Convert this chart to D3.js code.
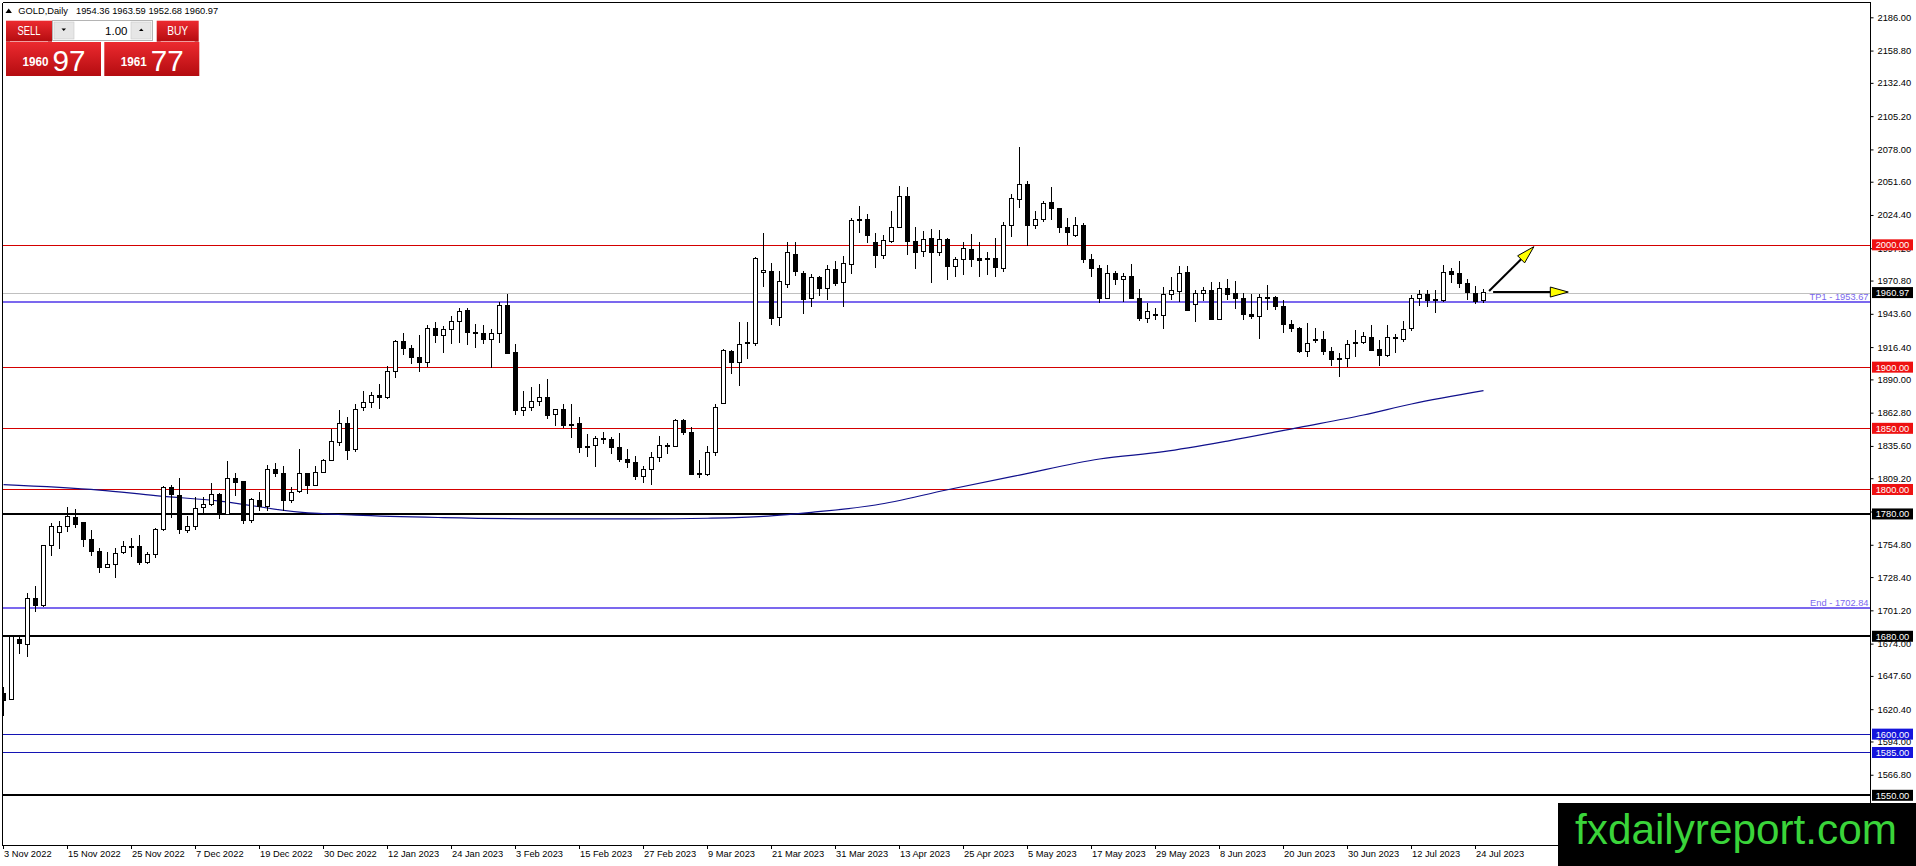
<!DOCTYPE html>
<html>
<head>
<meta charset="utf-8">
<script src="https://cdn.jsdelivr.net/npm/d3@7"></script>
<style>
  body { margin: 0; background: #fff; overflow: hidden; }
  svg { display: block; font-family: "Liberation Sans", Arial, sans-serif; }
</style>
</head>
<body>
<svg width="1916" height="866"></svg>
<script>
// --- Data ---
const dateLabels = ["3 Nov 2022", "15 Nov 2022", "25 Nov 2022", "7 Dec 2022", "19 Dec 2022", "30 Dec 2022",
  "12 Jan 2023", "24 Jan 2023", "3 Feb 2023", "15 Feb 2023", "27 Feb 2023", "9 Mar 2023", "21 Mar 2023",
  "31 Mar 2023", "13 Apr 2023", "25 Apr 2023", "5 May 2023", "17 May 2023", "29 May 2023", "8 Jun 2023",
  "20 Jun 2023", "30 Jun 2023", "12 Jul 2023", "24 Jul 2023"];
const barsPerLabel = 8;

const open = [1633.3,1628.4,1677.4,1673.6,1711,1705,1754.3,1764.6,1769.5,1777.2,1772.8,1759.5,1749.6,1736,1738.8,1748.6,1753.2,1753.2,1740.1,1747.2,
  1767.4,1801.4,1795.4,1766.8,1769.5,1785,1787.8,1796.3,1779.9,1809,1806.3,1775,1791.4,1786.4,1816.4,1813.2,1790.8,1798.2,1812.9,1803.4,
  1813.7,1824.1,1838.3,1853.8,1832.3,1866.9,1870.9,1877,1875,1896.3,1920.6,1915.1,1907.8,1903.7,1931.5,1925.5,1930.9,1937.2,1946.5,1928.2,
  1927.7,1922.2,1927.4,1950.5,1911.8,1864.2,1866.9,1872.3,1875.1,1861.4,1865,1853.5,1853.8,1835.5,1835.7,1841.7,1841.1,1834.3,1824.8,1822.1,
  1810.6,1816.6,1826.2,1835.7,1835.2,1856.1,1846.6,1812.7,1812.5,1830.3,1870.6,1912.8,1903.8,1919.4,1919.4,1977.4,1978.2,1940.6,1967.9,1992.4,
  1976.9,1956.1,1973.3,1964.3,1979.6,1969.2,1984.2,2019.6,2021,2001.9,1991,2002.6,2014.3,2039.9,2003.1,1994.4,2004.8,1993.6,2004,1982.2,
  1988.1,1996.3,1989,1987.6,1989,1980.8,2016.2,2037.2,2049.5,2016.2,2020.3,2034.5,2029.3,2014.3,2008,2015.4,1988.1,1980.8,1956.3,1976.7,
  1971.3,1974.5,1956.3,1939.9,1943.3,1942.6,1959,1961.7,1977.3,1951.6,1960.3,1963,1939,1964.4,1960.3,1956.2,1943.4,1941.8,1957,1957,
  1949.9,1935,1931.7,1912.6,1922.8,1922.2,1913.1,1907.1,1907.1,1919.6,1920,1924.3,1914.8,1909.3,1924.3,1922.2,1931.7,1956.2,1959.5,1954.8,
  1954.3,1978.6,1976.7,1968.5,1960.3,1954.36];
const high = [1638.5,1681,1679.6,1715,1721,1755,1772.3,1774.2,1785.9,1784,1773,1766.8,1751.8,1748.6,1751.8,1757.8,1760,1762.7,1748.8,1768.2,
  1802.8,1803.6,1809,1778.3,1793.5,1793.5,1805.5,1796.8,1823.5,1813.7,1807.2,1792.7,1798.2,1820,1821.9,1819.1,1801.7,1832.8,1813.7,1819.2,
  1825.2,1849.2,1864.7,1859.5,1869.6,1880.5,1880,1886,1900.9,1921.9,1928.2,1918.1,1926,1934.2,1936.9,1933.6,1941.8,1948.1,1948.6,1935,
  1934.2,1930.9,1953.3,1959.5,1919.2,1880.5,1884.1,1886,1890,1866,1869.6,1870.2,1859.5,1845.1,1843.9,1846.6,1843.3,1845.8,1833.5,1827,
  1819.4,1830.3,1843.9,1838.4,1857.5,1858,1851.2,1824,1835.2,1869.8,1914.7,1913.9,1937.3,1937.3,1989.7,2009.6,1984.8,1978.2,2002.5,2002.5,
  1978.8,1976,1974.7,1983.7,1986.9,1990.5,2022,2032,2025,2009.6,2007.9,2028,2048.1,2047.6,2014.3,2011.6,2012.7,2012.1,2005.3,1989.8,
  2002.6,2008.6,2002.6,1993.9,2005.3,2019,2041.3,2080.2,2052.2,2027.9,2036.1,2047,2029.8,2021.7,2022.5,2017.6,1992.2,1983.5,1983.5,1978.6,
  1976.7,1984.3,1963.9,1952.7,1948.1,1965.8,1974,1982.7,1982.7,1963,1965.7,1969.3,1969.3,1972,1970.4,1960.3,1959.8,1959.5,1967.1,1958.1,
  1954.8,1938.5,1933.1,1935.8,1932.2,1929.8,1916.1,1911.2,1922.2,1930.3,1929,1934.4,1922.2,1934.4,1927.1,1937.7,1959,1963,1963,1963,
  1983.5,1981.3,1986.7,1972,1966.3,1963.59];
const low = [1614.9,1628,1665.2,1662.7,1700,1704,1745.8,1751.6,1765.5,1768.7,1753.2,1745.8,1731.4,1735.5,1727.3,1747.2,1744.5,1738,1738.8,1743.7,
  1766.3,1776.9,1763.6,1764.6,1766.8,1780,1786.4,1775.5,1779,1794.6,1771.7,1772.8,1782.4,1782.6,1810.4,1782.6,1789.2,1797.3,1796,1802.9,
  1813.2,1823.3,1835.5,1824.1,1830.7,1864.2,1866.9,1866,1874.2,1891.4,1909.7,1902.9,1896,1900.4,1920,1911.3,1918.7,1919.5,1918.1,1915.4,
  1918.7,1899.6,1920,1910.5,1860.6,1860.1,1864.2,1868.2,1857.9,1851.9,1850,1842.4,1830.1,1826.8,1818,1837,1828.9,1822.1,1817.2,1807.9,
  1805.2,1803.8,1822.6,1828.9,1834.6,1844.4,1811.7,1809,1811.2,1827,1869.8,1894.3,1884.8,1906.6,1917.5,1965.7,1934.3,1933.8,1965.1,1974.7,
  1943.3,1948.8,1958.3,1955.1,1966.5,1949.3,1976,2010,2001.4,1981,1988.8,2001.8,2013.5,1991.7,1980,1990.3,1968.5,1990.9,1971.3,1974,
  1975.3,1982.2,1973.4,1975.3,1974,1977.5,2006.7,2029.8,1999,2013,2019,2020.3,2010,1999.9,2006.1,1984.9,1974,1952.2,1955.4,1967.2,
  1953.5,1955.4,1937.7,1935.8,1938.6,1930.9,1954.9,1953.5,1946.2,1937.1,1954.3,1938.5,1938.5,1954.8,1947.5,1938.5,1939,1923,1946.7,1946.7,
  1928.1,1929,1911.2,1908.5,1920,1909.9,1900.9,1891.6,1899.8,1908,1918.9,1913.2,1900.9,1908.5,1911.2,1920.3,1929.8,1950,1949.4,1944.5,
  1953.5,1968.5,1964.4,1954.8,1951.6,1952.68];
const close = [1627.3,1679.6,1674.2,1711,1705,1754.3,1769.5,1769.5,1778.3,1771.7,1759.2,1749.1,1736,1738.8,1747.7,1753.2,1753.6,1740.1,1747.2,1767.4,
  1801.4,1796,1767.4,1769.5,1784.5,1787.8,1796,1779.9,1809,1805.5,1775,1791.9,1786.4,1816.4,1813.2,1790.8,1797.3,1812.9,1803.4,1813.7,
  1823.3,1839.1,1853.8,1831.5,1865.5,1870.9,1877,1875,1896.3,1920.6,1915.1,1907.8,1903.7,1931.5,1925.5,1930.9,1937.2,1945.4,1928.2,1927.5,
  1922.2,1927.4,1950.5,1911.3,1864.2,1866.9,1872.3,1875.1,1860.6,1865,1852.5,1852.9,1834.7,1835,1841.7,1841.3,1834.3,1824.3,1822.1,1810.6,
  1816.6,1826.2,1835.7,1835.4,1856.1,1846.6,1812.5,1813.2,1830.3,1867,1913.4,1903.8,1918.3,1919.8,1988.8,1979.3,1939.8,1970,1993.7,1977.9,
  1955.6,1973.3,1964.3,1979.6,1968.4,1984.8,2019.6,2021,2007.4,1991,2003.3,2014.3,2039.9,2002.6,1993.9,2004.5,1993.6,2004,1982.2,1988.1,
  1996.6,1988.1,1986.8,1989,1981.3,2016.2,2038,2049.5,2016.2,2020.3,2033.9,2029.8,2014.3,2010,2015.4,1988.1,1980.8,1956.3,1976.7,1971.3,
  1974.5,1956.3,1939.9,1945.4,1942.9,1959,1962.3,1976.7,1946.7,1960.3,1963,1939,1964.4,1959.8,1956.2,1943.4,1941.2,1957,1957.2,1949.9,
  1935,1931.7,1912.6,1919.4,1922.5,1912.6,1906.3,1907.2,1918.6,1920,1924.9,1914,1909.3,1924.3,1924.5,1930.9,1956.2,1959.5,1954.3,1954.9,
  1977.5,1975.8,1968.5,1961.1,1953.5,1960.97];

// moving average, sampled by bar index
const maIndex = [0, 12, 19, 27, 37, 44, 55, 68, 80, 88, 95, 98, 101, 109, 118, 127, 137, 145, 153, 162, 170, 176, 185];
const maValue = [1804, 1799.5, 1795, 1790.5, 1781.5, 1779, 1777, 1776, 1776, 1776.5, 1778, 1779.5, 1781.3, 1787.3, 1799.8, 1811.8, 1824.9, 1830.9, 1839.6, 1850.8, 1860.9, 1869.9, 1880.8];

const yTicks = [2186.0, 2158.8, 2132.4, 2105.2, 2078.0, 2051.6, 2024.4, 1997.2, 1970.8, 1943.6, 1916.4, 1890.0,
  1862.8, 1835.6, 1809.2, 1782.0, 1754.8, 1728.4, 1701.2, 1674.0, 1647.6, 1620.4, 1594.0, 1566.8, 1539.6];

const redLevels = [2000, 1900, 1850, 1800];
const blackLevels = [1780, 1680, 1550];
const blueLevels = [1600, 1585];
const targetNames = ["TP1", "End"];
const targetPrices = [1953.67, 1702.84];
const bidPrice = 1960.97;

const headerSymbol = "GOLD,Daily";
const headerOHLC = "1954.36 1963.59 1952.68 1960.97";

// arrows: [barIndex, price] start -> end
const arrowFrom = [[185.7, 1962.2], [186.2, 1961.4]];
const arrowTo = [[191.3, 1998.5], [195.6, 1961.4]];

// --- Layout ---
const svg = d3.select("svg");
const W = 1916, H = 866;
const plotL = 2.5, plotT = 2.5, plotR = 1870.5, plotB = 845.5;

const x = d3.scaleLinear().domain([0, 185]).range([3.5, 1483.5]);
const y = d3.scaleLinear().domain([1550, 2186]).range([795.3, 17.3]);

svg.append("rect").attr("width", W).attr("height", H).attr("fill", "#fff");

const defs = svg.append("defs");
defs.append("clipPath").attr("id", "plot")
  .append("rect").attr("x", plotL).attr("y", plotT).attr("width", plotR - plotL).attr("height", plotB - plotT);

const plot = svg.append("g").attr("clip-path", "url(#plot)");

// --- Horizontal levels ---
function hline(price, color, width) {
  const yy = Math.round(y(price)) + (width % 2 ? 0.5 : 0);
  plot.append("line")
    .attr("x1", plotL).attr("x2", plotR)
    .attr("y1", yy).attr("y2", yy)
    .attr("stroke", color).attr("stroke-width", width);
}
hline(bidPrice, "#c0c0c0", 1);
redLevels.forEach(p => hline(p, "#d40000", 1));
blueLevels.forEach(p => hline(p, "#1414b4", 1));
targetPrices.forEach(p => hline(p, "#7b68ee", 2));
blackLevels.forEach(p => hline(p, "#000", 2));

// --- Moving average ---
const maLine = d3.line()
  .x(d => x(d[0]))
  .y(d => y(d[1]))
  .curve(d3.curveMonotoneX);
plot.append("path")
  .datum(maIndex.map((d, i) => [d, maValue[i]]))
  .attr("d", maLine)
  .attr("fill", "none")
  .attr("stroke", "#10108c")
  .attr("stroke-width", 1.2);

// --- Candles ---
const candles = plot.append("g").attr("shape-rendering", "crispEdges");
const idx = d3.range(open.length);

candles.selectAll("line.wick")
  .data(idx)
  .join("line")
  .attr("class", "wick")
  .attr("x1", i => x(i)).attr("x2", i => x(i))
  .attr("y1", i => y(high[i])).attr("y2", i => y(low[i]))
  .attr("stroke", "#000");

candles.selectAll("rect.body")
  .data(idx)
  .join("rect")
  .attr("class", "body")
  .attr("x", i => x(i) - 2)
  .attr("width", 4)
  .attr("y", i => y(Math.max(open[i], close[i])))
  .attr("height", i => Math.max(1, Math.abs(y(open[i]) - y(close[i]))))
  .attr("fill", i => close[i] >= open[i] ? "#fff" : "#000")
  .attr("stroke", "#000");

// --- Target labels ---
targetPrices.forEach((p, i) => {
  plot.append("text")
    .attr("x", plotR - 2)
    .attr("y", y(p) - 2)
    .attr("text-anchor", "end")
    .attr("font-size", 9.3)
    .attr("fill", "#7b68ee")
    .text(`${targetNames[i]} - ${p.toFixed(2)}`);
});

// --- Arrows ---
arrowFrom.forEach((a, i) => {
  const x1 = x(a[0]), y1 = y(a[1]);
  const x2 = x(arrowTo[i][0]), y2 = y(arrowTo[i][1]);
  const len = Math.hypot(x2 - x1, y2 - y1);
  const ux = (x2 - x1) / len, uy = (y2 - y1) / len;
  const hl = 18, hw = 5;
  const bx = x2 - ux * hl, by = y2 - uy * hl;
  plot.append("line")
    .attr("x1", x1).attr("y1", y1).attr("x2", bx).attr("y2", by)
    .attr("stroke", "#000").attr("stroke-width", 2);
  plot.append("polygon")
    .attr("points", [[x2, y2], [bx - uy * hw, by + ux * hw], [bx + uy * hw, by - ux * hw]].map(p => p.join(",")).join(" "))
    .attr("fill", "#ffff00").attr("stroke", "#000").attr("stroke-width", 1);
});

// --- Frame ---
const frame = svg.append("g").attr("stroke", "#000").attr("shape-rendering", "crispEdges");
frame.append("line").attr("x1", plotL).attr("x2", plotL).attr("y1", plotT).attr("y2", plotB);
frame.append("line").attr("x1", plotL).attr("x2", plotR).attr("y1", plotT).attr("y2", plotT);
frame.append("line").attr("x1", plotR).attr("x2", plotR).attr("y1", plotT).attr("y2", plotB);
frame.append("line").attr("x1", plotL).attr("x2", plotR).attr("y1", plotB).attr("y2", plotB);

// --- Price axis ---
const yAxis = svg.append("g")
  .attr("transform", `translate(${plotR},0)`)
  .call(d3.axisRight(y).tickValues(yTicks).tickSize(3).tickPadding(4).tickFormat(d3.format(".2f")));
yAxis.select(".domain").remove();
yAxis.selectAll("line").attr("stroke", "#000");
yAxis.selectAll("text").attr("font-size", 9.3).attr("fill", "#000")
  .attr("font-family", "'Liberation Sans', Arial, sans-serif");

function priceTag(price, color) {
  const g = svg.append("g");
  const yy = y(price);
  g.append("rect")
    .attr("x", 1872).attr("y", yy - 5.5)
    .attr("width", 41).attr("height", 11)
    .attr("fill", color);
  g.append("text")
    .attr("x", 1892.5).attr("y", yy + 3.4)
    .attr("text-anchor", "middle")
    .attr("font-size", 9.3)
    .attr("fill", "#fff")
    .text(price.toFixed(2));
}
redLevels.forEach(p => priceTag(p, "#ee1111"));
blackLevels.forEach(p => priceTag(p, "#000"));
blueLevels.forEach(p => priceTag(p, "#1515dc"));
priceTag(bidPrice, "#000");

// --- Date axis ---
const xAxis = svg.append("g").attr("shape-rendering", "crispEdges");
dateLabels.forEach((lab, k) => {
  const xx = Math.round(x(k * barsPerLabel)) - 0.5;
  xAxis.append("line")
    .attr("x1", xx).attr("x2", xx)
    .attr("y1", plotB).attr("y2", plotB + 3)
    .attr("stroke", "#000");
  xAxis.append("text")
    .attr("x", xx + 0.5)
    .attr("y", 857)
    .attr("font-size", 9.3)
    .attr("fill", "#000")
    .text(lab);
});

// --- Header ---
svg.append("path")
  .attr("d", "M5.5,13 L8.7,8.5 L11.9,13 Z")
  .attr("fill", "#000");
svg.append("text").attr("x", 18.3).attr("y", 13.5).attr("font-size", 9.3).text(headerSymbol);
svg.append("text").attr("x", 76).attr("y", 13.5).attr("font-size", 9.3).text(headerOHLC);

// --- Trade panel ---
const grad = defs.append("linearGradient").attr("id", "redGrad")
  .attr("x1", 0).attr("x2", 0).attr("y1", 0).attr("y2", 1);
grad.append("stop").attr("offset", "0%").attr("stop-color", "#ec2a2f");
grad.append("stop").attr("offset", "100%").attr("stop-color", "#b40c10");

const panel = svg.append("g");
const priceParts = [["1960", "97"], ["1961", "77"]];
const btnX = [6, 156.7];
const btnW = [46, 42];
const boxX = [6, 104.3];

["SELL", "BUY"].forEach((lab, i) => {
  panel.append("rect").attr("x", btnX[i]).attr("y", 20.7).attr("width", btnW[i]).attr("height", 21)
    .attr("fill", "url(#redGrad)");
  panel.append("text").attr("x", btnX[i] + btnW[i] / 2).attr("y", 35)
    .attr("text-anchor", "middle").attr("font-size", 12).attr("fill", "#fff")
    .attr("textLength", i === 0 ? 23 : 21).attr("lengthAdjust", "spacingAndGlyphs")
    .text(lab);
  panel.append("line").attr("x1", btnX[i] + 4).attr("x2", btnX[i] + btnW[i] - 4)
    .attr("y1", 41.5).attr("y2", 41.5).attr("stroke", "#f7b0b0").attr("stroke-width", 0.8);

  panel.append("rect").attr("x", boxX[i]).attr("y", 42).attr("width", 95).attr("height", 34)
    .attr("fill", "url(#redGrad)");
  panel.append("text").attr("x", boxX[i] + 16.5).attr("y", 66)
    .attr("font-size", 12).attr("font-weight", "bold").attr("fill", "#fff")
    .attr("textLength", 26).attr("lengthAdjust", "spacingAndGlyphs")
    .text(priceParts[i][0]);
  panel.append("text").attr("x", boxX[i] + 46.5).attr("y", 70.5)
    .attr("font-size", 30).attr("fill", "#fff")
    .attr("textLength", 33).attr("lengthAdjust", "spacingAndGlyphs")
    .text(priceParts[i][1]);
});

// lot spinner
panel.append("rect").attr("x", 52.5).attr("y", 20.5).attr("width", 100).attr("height", 20)
  .attr("fill", "#fff").attr("stroke", "#b4b4b4");
[54, 131].forEach(bx => {
  panel.append("rect").attr("x", bx).attr("y", 22).attr("width", 20).attr("height", 17)
    .attr("fill", "#e6e6e6").attr("stroke", "#c8c8c8").attr("stroke-width", 0.6);
});
panel.append("path").attr("d", "M61.5,28.5 L66,28.5 L63.75,31 Z").attr("fill", "#000");
panel.append("path").attr("d", "M139,31 L143.5,31 L141.25,28.5 Z").attr("fill", "#000");
panel.append("text").attr("x", 127.5).attr("y", 34.5).attr("text-anchor", "end")
  .attr("font-size", 11.5).attr("fill", "#000").text("1.00");

// --- Watermark ---
svg.append("rect").attr("x", 1558).attr("y", 803).attr("width", W - 1558).attr("height", H - 803).attr("fill", "#000");
svg.append("text").attr("x", 1575).attr("y", 844)
  .attr("font-size", 42).attr("fill", "#3ad43a")
  .attr("textLength", 322).attr("lengthAdjust", "spacingAndGlyphs")
  .text("fxdailyreport.com");
</script>
</body>
</html>
